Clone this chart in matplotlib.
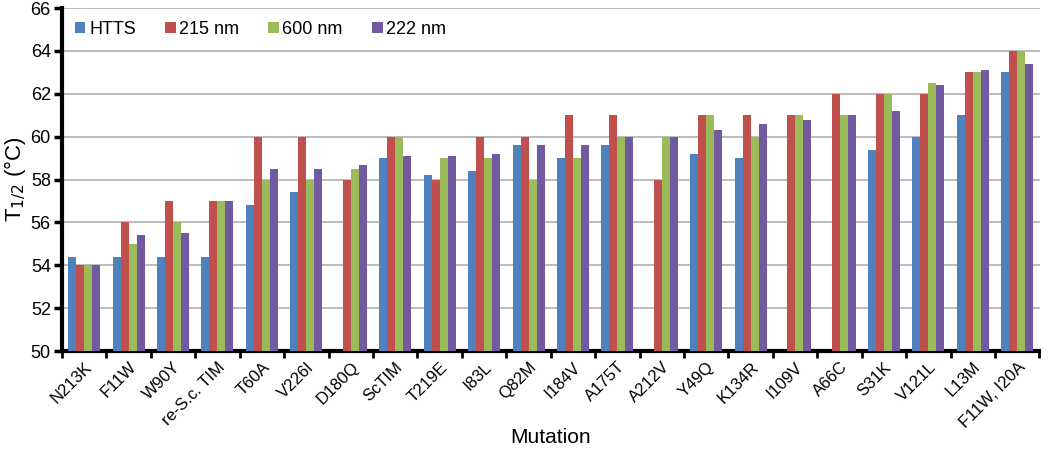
import numpy as np
import matplotlib
matplotlib.use('Agg')
import matplotlib.pyplot as plt

plt.rcParams['font.family'] = ['Liberation Sans', 'DejaVu Sans']

# data
mutations = ['N213K', 'F11W', 'W90Y', 're-S.c. TIM', 'T60A', 'V226I', 'D180Q',
             'ScTIM', 'T219E', 'I83L', 'Q82M', 'I184V', 'A175T', 'A212V', 'Y49Q',
             'K134R', 'I109V', 'A66C', 'S31K', 'V121L', 'L13M', 'F11W, I20A']
htts = [54.4, 54.4, 54.4, 54.4, 56.8, 57.4, np.nan, 59.0, 58.2, 58.4, 59.6,
        59.0, 59.6, np.nan, 59.2, 59.0, np.nan, np.nan, 59.4, 60.0, 61.0, 63.0]
nm215 = [54, 56, 57, 57, 60, 60, 58, 60, 58, 60, 60,
         61, 61, 58, 61, 61, 61, 62, 62, 62, 63, 64]
nm600 = [54, 55, 56, 57, 58, 58, 58.5, 60, 59, 59, 58,
         59, 60, 60, 61, 60, 61, 61, 62, 62.5, 63, 64]
nm222 = [54, 55.4, 55.5, 57, 58.5, 58.5, 58.7, 59.1, 59.1, 59.2, 59.6,
         59.6, 60, 60, 60.3, 60.6, 60.8, 61, 61.2, 62.4, 63.1, 63.4]

series = [('HTTS', htts, '#4F81BD'), ('215 nm', nm215, '#C0504D'),
          ('600 nm', nm600, '#9BBB59'), ('222 nm', nm222, '#7359A0')]

fig = plt.figure(figsize=(10.5, 4.5), dpi=100)
ax = fig.add_axes([0.059, 0.22, 0.931, 0.762])

x = np.arange(len(mutations))
w = 0.18
for i, (name, vals, col) in enumerate(series):
    ax.bar(x + (i - 1.5) * w, np.array(vals, dtype=float) - 50, w, bottom=50,
           color=col, label=name, zorder=3)

ax.set_ylim(50, 66)
ax.set_yticks(range(50, 67, 2))
ax.set_xlim(-0.5, len(mutations) - 0.5)
ax.set_xticks(x)
ax.set_xticklabels(mutations, rotation=45, ha='right', rotation_mode='anchor', fontsize=12)
ax.set_xticks(np.arange(-0.5, len(mutations), 1), minor=True)
ax.tick_params(axis='x', which='major', length=0, pad=6)
ax.tick_params(axis='x', which='minor', length=5, width=2, direction='out')
ax.tick_params(axis='y', length=6, width=2.5, labelsize=13, direction='out', pad=2)

ax.yaxis.grid(True, color='#b0b0b0', linewidth=1.2, zorder=0)
ax.set_axisbelow(True)
for s in ['top', 'right']:
    ax.spines[s].set_visible(False)
ax.spines['left'].set_linewidth(3)
ax.spines['bottom'].set_linewidth(3)

ax.set_ylabel(r'T$_{1/2}$ (°C)', fontsize=16, labelpad=2)
ax.set_xlabel('Mutation', fontsize=15, labelpad=-2)

ax.legend(loc='upper left', ncol=4, frameon=False, fontsize=13, handlelength=0.6,
          handleheight=0.6, handletextpad=0.2, columnspacing=1.6,
          bbox_to_anchor=(0.0, 1.0), borderaxespad=0.3)

fig.savefig('out.png', dpi=100)
